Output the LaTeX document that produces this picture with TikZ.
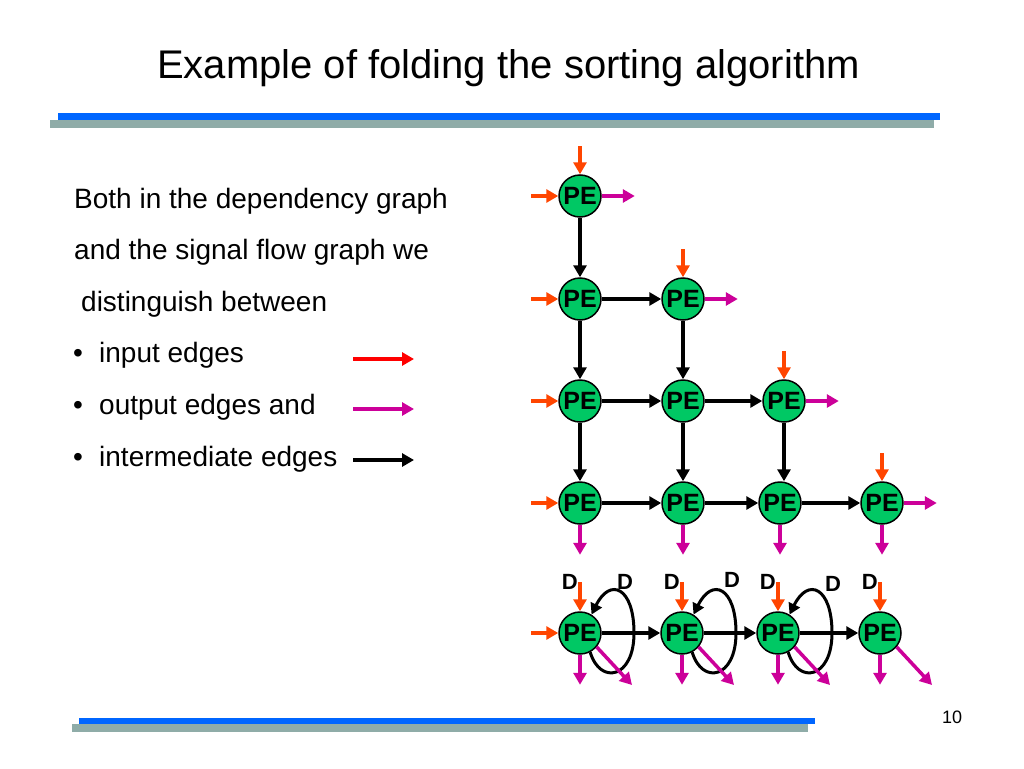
\documentclass[tikz,border=0pt]{standalone}
\usepackage{fontspec}
\setmainfont{Liberation Sans}
\usetikzlibrary{positioning,calc,arrows.meta}

\definecolor{pegreen}{RGB}{0,200,100}
\definecolor{inorange}{RGB}{255,69,0}
\definecolor{inred}{RGB}{255,0,0}
\definecolor{outmagenta}{RGB}{204,0,153}
\definecolor{barblue}{RGB}{0,102,255}
\definecolor{bargray}{RGB}{143,172,168}

\begin{document}
\begin{tikzpicture}[x=1pt,y=-1pt,
		pe/.style={circle, draw=black, line width=1.5pt, fill=pegreen, minimum size=42pt, inner sep=0pt,
			font=\fontsize{25}{25}\selectfont\bfseries},
		inedge/.style={draw=inorange, line width=3.5pt, -{Triangle[length=12pt,width=13pt]}},
		outedge/.style={draw=outmagenta, line width=3.5pt, -{Triangle[length=12pt,width=13pt]}},
		midedge/.style={draw=black, line width=4pt, -{Triangle[length=12pt,width=13pt]}},
		loopedge/.style={draw=black, line width=3pt, -{Triangle[length=11pt,width=12pt]}},
		dlabel/.style={inner sep=0pt, font=\fontsize{22}{22}\selectfont\bfseries},
		txt/.style={anchor=base west, inner sep=0pt, font=\fontsize{28}{28}\selectfont}]
	
	% page
	\fill[white] (0,0) rectangle (1024,768);
	\useasboundingbox (0,0) rectangle (1024,768);
	\fill[barblue] (58,113) rectangle (940,120);
	\fill[bargray] (50,120) rectangle (934,128);
	\fill[barblue] (79,717.5) rectangle (815,724);
	\fill[bargray] (72,724) rectangle (808,731.5);
	\node[anchor=base west, inner sep=0pt, font=\fontsize{40}{40}\selectfont] (title) at (157,78)
	{Example of folding the sorting algorithm};
	\node[anchor=base west, inner sep=0pt, font=\fontsize{18}{18}\selectfont] (pgnum) at (942,723) {10};
	
	% text and legend
	\node[txt] (ln1) at (74,208) {Both in the dependency graph};
	\node[txt] (ln2) at (74,259.6) {and the signal flow graph we};
	\node[txt] (ln3) at (81,311.2) {distinguish between};
	\node[txt] (ln4) at (73,362.8) {\makebox[26pt][l]{•}input edges};
	\node[txt] (ln5) at (73,414.4) {\makebox[26pt][l]{•}output edges and};
	\node[txt] (ln6) at (73,466) {\makebox[26pt][l]{•}intermediate edges};
	
	\coordinate (lgin) at (353,359);   \coordinate (lgin') at (414,359);
	\coordinate (lgout) at (353,409);  \coordinate (lgout') at (414,409);
	\coordinate (lgmid) at (353,460);  \coordinate (lgmid') at (414,460);
	\draw[inedge, draw=inred] (lgin) -- (lgin');
	\draw[outedge] (lgout) -- (lgout');
	\draw[midedge] (lgmid) -- (lgmid');
	
	% dependency graph
	\node[pe] (p11) at (580,196) {PE};
	\node[pe] (p21) at (580,299) {PE};
	\node[pe] (p22) at (683,299) {PE};
	\node[pe] (p31) at (580,401) {PE};
	\node[pe] (p32) at (683,401) {PE};
	\node[pe] (p33) at (784,401) {PE};
	\node[pe] (p41) at (580,503) {PE};
	\node[pe] (p42) at (683,503) {PE};
	\node[pe] (p43) at (780,503) {PE};
	\node[pe] (p44) at (882,503) {PE};
	
	\foreach \r in {1,...,4} {
		\coordinate[left=27pt of p\r1] (lf\r);
		\draw[inedge] (lf\r) -- (p\r1);
		\coordinate[above=28pt of p\r\r] (tp\r);
		\draw[inedge] (tp\r) -- (p\r\r);
		\coordinate[right=33pt of p\r\r] (rt\r);
		\draw[outedge] (p\r\r) -- (rt\r);
		\coordinate[below=30pt of p4\r] (bt\r);
		\draw[outedge] (p4\r) -- (bt\r);
	}
	
	\draw[midedge] (p11) -- (p21);
	\draw[midedge] (p21) -- (p31);
	\draw[midedge] (p31) -- (p41);
	\draw[midedge] (p22) -- (p32);
	\draw[midedge] (p32) -- (p42);
	\draw[midedge] (p33) -- (p33 |- p43.north);
	\draw[midedge] (p21) -- (p22);
	\draw[midedge] (p31) -- (p32);
	\draw[midedge] (p32) -- (p33);
	\draw[midedge] (p41) -- (p42);
	\draw[midedge] (p42) -- (p43);
	\draw[midedge] (p43) -- (p44);
	
	% folded graph
	\newcommand{\foldloop}[3]{%
		\begin{scope}[shift={(#1)}]
			\draw[loopedge] (#1.-62) .. controls (20,52) and (54,46) .. (54,0)
			.. controls (54,-46) and (30,-56) .. (#1.58);
			\node[dlabel] (#2) at (#3) {D};
		\end{scope}
	}
	
	\node[pe] (f1) at (580,633) {PE};
	\node[pe] (f2) at (682,633) {PE};
	\node[pe] (f3) at (778,633) {PE};
	\node[pe] (f4) at (880,633) {PE};
	
	\foldloop{f1}{dl1}{45,-51}
	\foldloop{f2}{dl2}{50,-53}
	\foldloop{f3}{dl3}{55,-49}
	
	\coordinate[left=27pt of f1] (flf);
	\draw[inedge] (flf) -- (f1);
	\foreach \i in {1,...,4} {
		\coordinate[above=29pt of f\i] (ft\i);
		\draw[inedge] (ft\i) -- (f\i);
		\node[dlabel, left=2pt of ft\i] (dt\i) {D};
		\coordinate[below=30pt of f\i] (fb\i);
		\draw[outedge] (f\i) -- (fb\i);
		\coordinate (fd\i) at ($(f\i)+(52,52)$);
		\draw[outedge] (f\i.-40) -- (fd\i);
	}
	\draw[midedge] (f1) -- (f2);
	\draw[midedge] (f2) -- (f3);
	\draw[midedge] (f3) -- (f4);
	
\end{tikzpicture}
\end{document}
